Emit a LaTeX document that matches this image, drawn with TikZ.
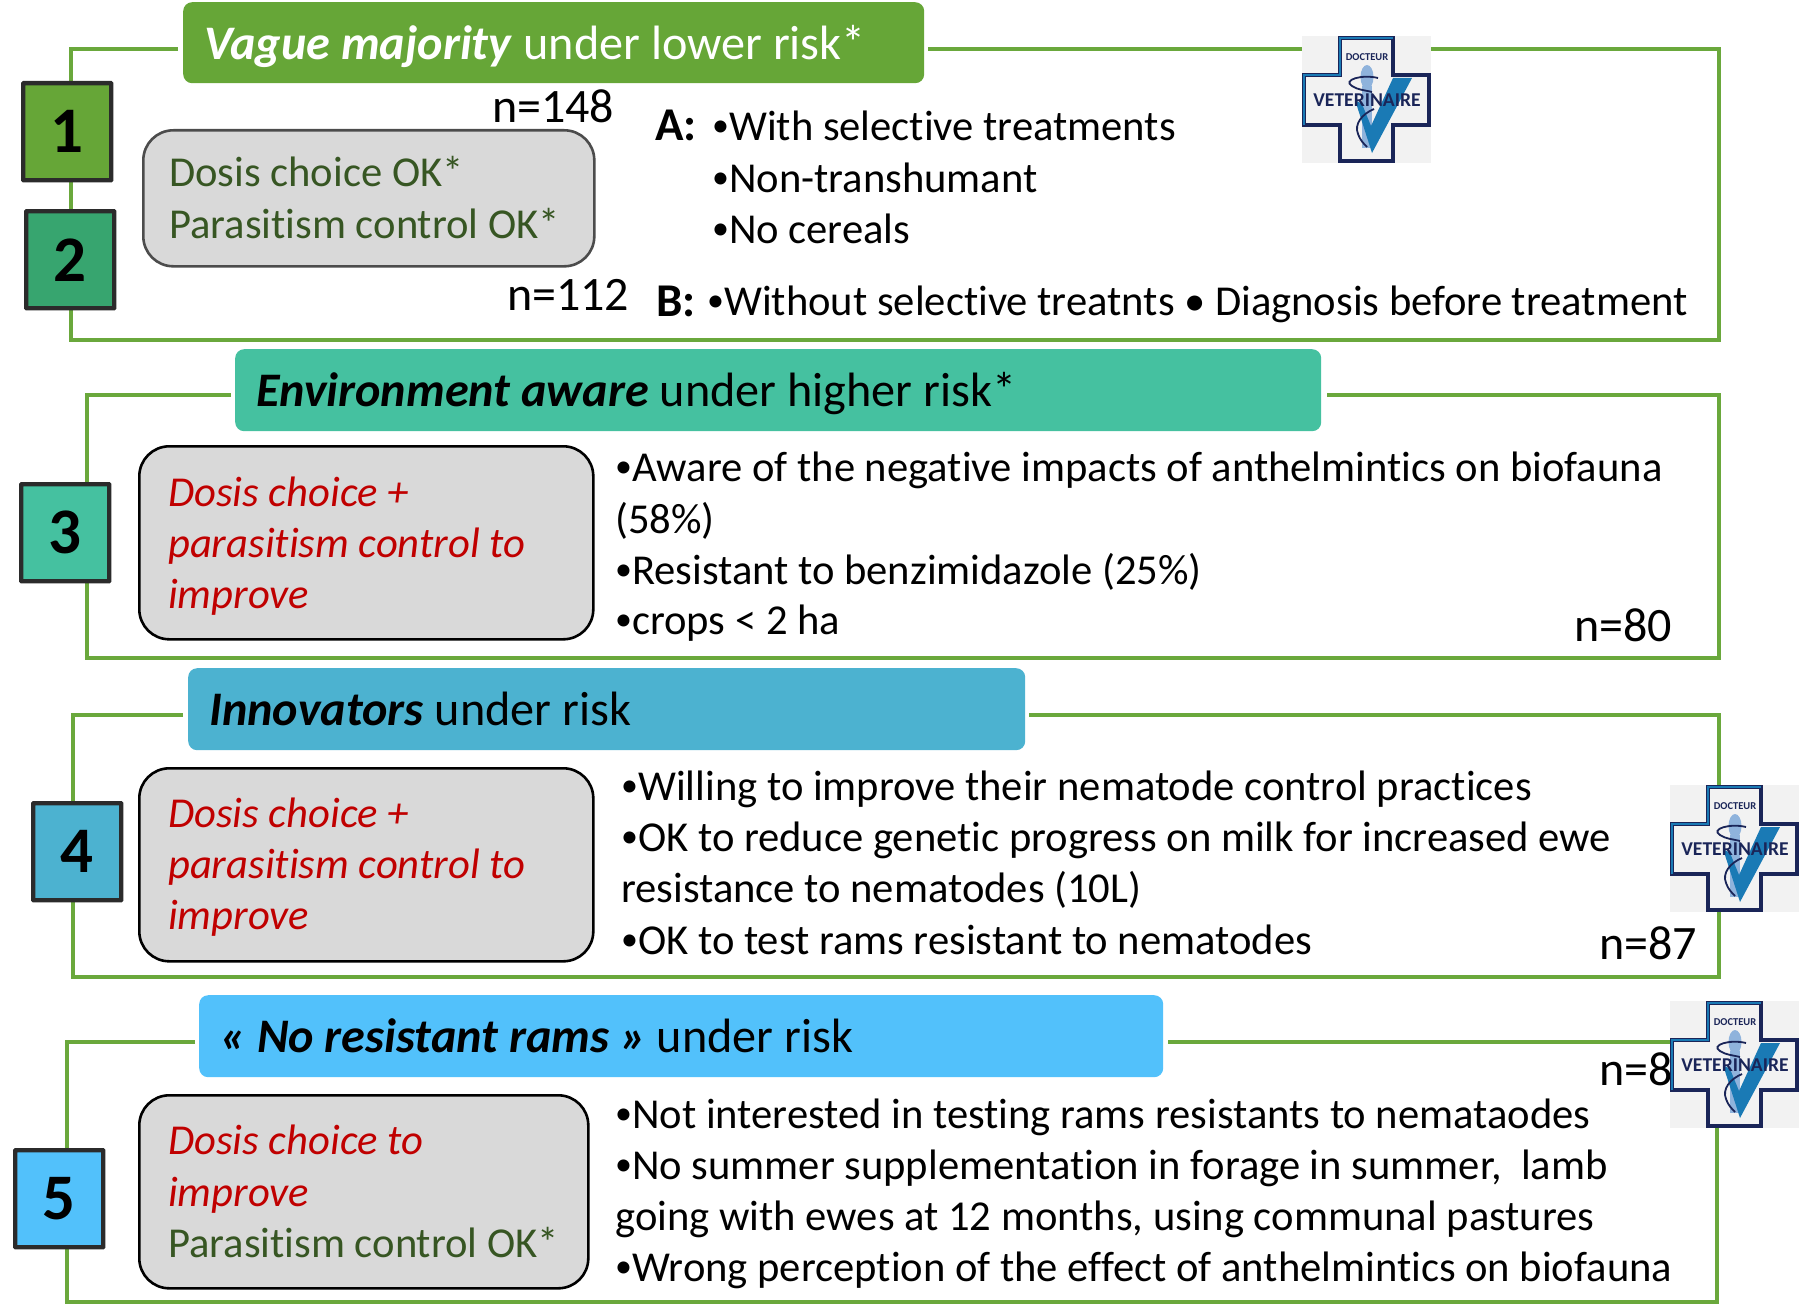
\documentclass[tikz,border=0pt]{standalone}
\usepackage{fontspec}
\setmainfont{Carlito}[Ligatures={NoCommon,TeX}]
\definecolor{framegreen}{HTML}{6AA83C}
\definecolor{cone}{HTML}{66A637}
\definecolor{ctwo}{HTML}{37A56F}
\definecolor{cthree}{HTML}{45C1A0}
\definecolor{cfour}{HTML}{4CB2D0}
\definecolor{cfive}{HTML}{52C1FB}
\definecolor{okgreen}{HTML}{375623}
\definecolor{badred}{HTML}{C00000}
\definecolor{navy}{HTML}{1A2558}
\definecolor{logoblue}{HTML}{1A7AB5}
\definecolor{logolight}{HTML}{8FB3DC}
\newcommand{\bul}{\raisebox{.08em}{\fontsize{34}{34}\selectfont •}}
\tikzset{
  framebox/.style={draw=framegreen,line width=3.6pt,line join=miter},
  titlebar/.style={rectangle,rounded corners=9pt,inner sep=0pt,anchor=north west},
  numbox/.style={rectangle,draw=black!83,line width=4.4pt,inner sep=0pt,anchor=north west,rounded corners=0.5pt},
  graybox/.style={rectangle,draw=black,line width=2.6pt,fill=black!15,rounded corners=30pt,inner sep=0pt,anchor=north west},
  body/.style={anchor=base west,inner sep=0pt,font=\fontsize{42.6}{48}\selectfont},
  count/.style={anchor=base west,inner sep=0pt,font=\fontsize{48}{54}\selectfont},
  letter/.style={anchor=base west,inner sep=0pt,font=\fontsize{47}{54}\selectfont\bfseries},
  ttl/.style={anchor=base west,inner sep=0pt,font=\fontsize{48.2}{54}\selectfont},
  num/.style={anchor=center,inner sep=0pt,font=\fontsize{65}{70}\selectfont\bfseries},
  oktxt/.style={body,text=okgreen},
  badtxt/.style={body,text=badred,font=\fontsize{42.6}{48}\selectfont\itshape},
}
\newcommand{\vetlogo}[2]{%
  \begin{scope}[shift={(#2)}]
    \fill[black!5] (0,0) rectangle (129,127);
    \fill[logolight] (60,50) rectangle (70,112);
    \fill[logolight] (65,41) ellipse [x radius=6.5,y radius=12];
    \fill[logoblue] (53,64) -- (70,117) -- (110,42) -- (91,42) -- (69,90) -- (60,68) -- cycle;
    \draw[navy,line width=3.6pt,line join=miter] (38,2) -- (91,2) -- (91,39) -- (127,39) -- (127,89) -- (91,89) -- (91,125) -- (38,125) -- (38,89) -- (2,89) -- (2,39) -- (38,39) -- cycle;
    \draw[logoblue,line width=2.4pt,line join=miter] (2,89) -- (2,39) -- (38,39) -- (38,2) -- (91,2);
    \draw[navy,line width=1.8pt] (76,42) .. controls (60,38) and (40,44) .. (50,50) .. controls (56,54) and (62,54) .. (70,56);
    \draw[navy,line width=1.8pt] (72,73) .. controls (60,78) and (52,88) .. (56,98) .. controls (58,104) and (62,108) .. (65,111);
    \node[inner sep=0pt,text=navy,font=\fontsize{10.5}{12}\selectfont\bfseries] (#1d) at (65,21) {DOCTEUR};
    \node[inner sep=0pt,text=navy,font=\fontsize{19.6}{24}\selectfont\bfseries] (#1v) at (65,64) {VETERINAIRE};
  \end{scope}}
\begin{document}
\begin{tikzpicture}[x=1pt,y=-1pt]
\useasboundingbox (0,0) rectangle (1806,1303);
% frames
\draw[framebox] (178,49) -- (71,49) -- (71,340) -- (1719,340) -- (1719,49) -- (928,49);
\draw[framebox] (231,395) -- (87,395) -- (87,658) -- (1719,658) -- (1719,395) -- (1327,395);
\draw[framebox] (183,715) -- (73,715) -- (73,977) -- (1719,977) -- (1719,715) -- (1029,715);
\draw[framebox] (195,1042) -- (67,1042) -- (67,1302) -- (1717,1302) -- (1717,1042) -- (1168,1042);
% title bars
\node[titlebar,fill=cone,minimum width=741pt,minimum height=81pt] (t1) at (183,2) {};
\node[titlebar,fill=cthree,minimum width=1086pt,minimum height=82pt] (t3) at (235,349) {};
\node[titlebar,fill=cfour,minimum width=837pt,minimum height=82pt] (t4) at (188,668) {};
\node[titlebar,fill=cfive,minimum width=964pt,minimum height=82pt] (t5) at (199,995) {};
\node[ttl,text=white] (t1x) at (204,60) {\textbf{\textit{Vague majority}} under lower risk*};
\node[ttl] (t3x) at (256,406) {\textbf{\textit{Environment aware}} under higher risk*};
\node[ttl] (t4x) at (209,725) {\textbf{\textit{Innovators}} under risk};
\node[ttl] (t5x) at (220,1052) {\textbf{\textit{« No resistant rams »}} under risk};
% number boxes
\node[numbox,fill=cone,minimum width=88pt,minimum height=97pt] (n1) at (21,81) {};
\node[numbox,fill=ctwo,minimum width=88pt,minimum height=97pt] (n2) at (24,209) {};
\node[numbox,fill=cthree,minimum width=88pt,minimum height=97pt] (n3) at (19,482) {};
\node[numbox,fill=cfour,minimum width=88pt,minimum height=97pt] (n4) at (31,801) {};
\node[numbox,fill=cfive,minimum width=88pt,minimum height=97pt] (n5) at (13,1148) {};
\node[num] at (n1.center) {1};
\node[num] at (n2.center) {2};
\node[num] at (n3.center) {3};
\node[num] at (n4.center) {4};
\node[num] at (n5.center) {5};
% grey boxes
\node[graybox,draw=black!70,minimum width=451pt,minimum height=136pt] (g1) at (142,129) {};
\node[graybox,minimum width=454pt,minimum height=193pt] (g3) at (138,445) {};
\node[graybox,minimum width=454pt,minimum height=193pt] (g4) at (138,767) {};
\node[graybox,minimum width=449pt,minimum height=193pt] (g5) at (138,1094) {};
\node[oktxt] (g1a) at (169,186) {Dosis choice OK*};
\node[oktxt] (g1b) at (169,238) {Parasitism control OK*};
\node[badtxt] (g3a) at (168,506) {Dosis choice +};
\node[badtxt] (g3b) at (168,557) {parasitism control to};
\node[badtxt] (g3c) at (168,608) {improve};
\node[badtxt] (g4a) at (168,827) {Dosis choice +};
\node[badtxt] (g4b) at (168,878) {parasitism control to};
\node[badtxt] (g4c) at (168,929) {improve};
\node[badtxt] (g5a) at (168,1154) {Dosis choice to};
\node[badtxt] (g5b) at (168,1206) {improve};
\node[oktxt] (g5c) at (168,1257) {Parasitism control OK*};
% counts
\node[count] (c1) at (492,123) {n=148};
\node[count] (c2) at (507,310) {n=112};
\node[count] (c3) at (1574,641) {n=80};
\node[count] (c4) at (1599,959) {n=87};
\node[count] (c5) at (1599,1085) {n=8};
% section 1 text
\node[letter] (a0) at (655,140) {A:};
\node[body] (a1) at (712,140) {\bul With selective treatments};
\node[body] (a2) at (712,192) {\bul Non-transhumant};
\node[body] (a3) at (712,243) {\bul No cereals};
\node[letter] (b0) at (656,316) {B:};
\node[body] (b1) at (707,315) {\bul Without selective treatnts • Diagnosis before treatment};
% section 3 text
\node[body] (s3a) at (615,481) {\bul Aware of the negative impacts of anthelmintics on biofauna};
\node[body] (s3b) at (615,533) {(58\%)};
\node[body] (s3c) at (615,584) {\bul Resistant to benzimidazole (25\%)};
\node[body] (s3d) at (615,634) {\bul crops < 2 ha};
% section 4 text
\node[body] (s4a) at (621,800) {\bul Willing to improve their nematode control practices};
\node[body] (s4b) at (621,851) {\bul OK to reduce genetic progress on milk for increased ewe};
\node[body] (s4c) at (621,902) {resistance to nematodes (10L)};
\node[body] (s4d) at (621,954) {\bul OK to test rams resistant to nematodes};
% section 5 text
\node[body] (s5a) at (615,1128) {\bul Not interested in testing rams resistants to nemataodes};
\node[body] (s5b) at (615,1179) {\bul No summer supplementation in forage in summer,\ \ lamb};
\node[body] (s5c) at (615,1230) {going with ewes at 12 months, using communal pastures};
\node[body] (s5d) at (615,1281) {\bul Wrong perception of the effect of anthelmintics on biofauna};
% logos
\vetlogo{la}{1302,36}
\vetlogo{lb}{1670,785}
\vetlogo{lc}{1670,1001}
\end{tikzpicture}
\end{document}
